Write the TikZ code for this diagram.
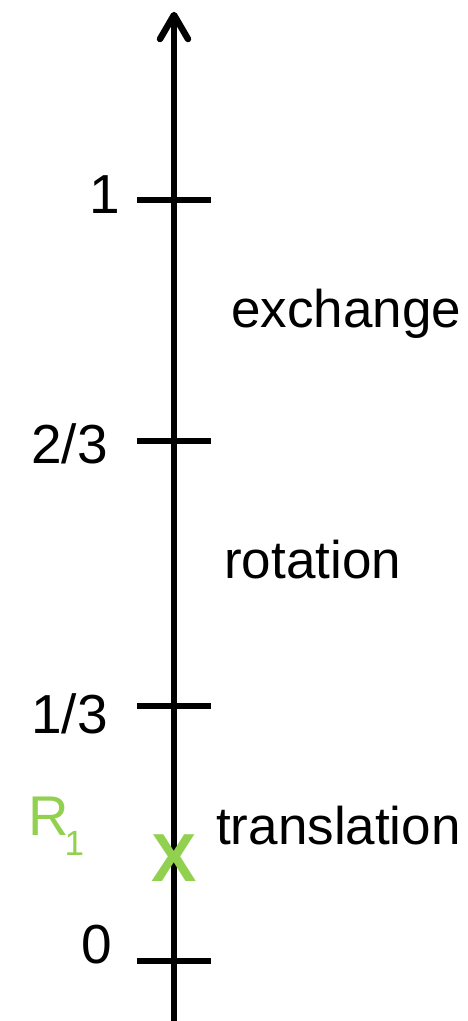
\documentclass[tikz,border=0pt]{standalone}
\usepackage{fontspec}
\setmainfont{Liberation Sans}
\definecolor{lgreen}{HTML}{92D050}
\begin{document}
\begin{tikzpicture}[x=1pt,y=-1pt,
  axisline/.style={line width=6.5pt, line cap=butt},
  headline/.style={line width=6.5pt, line cap=round, line join=round},
  lbl/.style={font=\fontsize{53}{60}\selectfont, inner sep=0pt, anchor=base west},
  ticklbl/.style={font=\fontsize{55}{60}\selectfont, inner sep=0pt, anchor=base east}]
\useasboundingbox (0,0) rectangle (467,1021);
\coordinate (bot) at (174,1021);
\coordinate (top) at (174,18);
\coordinate (tip) at (174,15);
\coordinate (hl) at (160,39);
\coordinate (hr) at (188,39);
\draw[axisline] (bot) -- (top);
\draw[headline] (hl) -- (tip) -- (hr);
\foreach \y/\n in {200/t1,441/t2,706/t3,961/t0}{
  \coordinate (\n L) at (137,\y);
  \coordinate (\n R) at (211,\y);
  \draw[axisline] (\n L) -- (\n R);
}
\node[ticklbl] (l1) at (120,213) {1};
\node[ticklbl] (l23) at (108,463) {2/3};
\node[ticklbl] (l13) at (108,733) {1/3};
\node[ticklbl] (l0) at (112,963) {0};
\node[lbl] (ex) at (231,327) {exchange};
\node[lbl] (rot) at (224,578) {rotation};
\node[lbl] (tr) at (216,844) {translation};
\node[inner sep=0pt, text=lgreen, font=\fontsize{68}{70}\selectfont\bfseries] (X) at (174,858) {X};
\node[inner sep=0pt, text=lgreen, font=\fontsize{56}{60}\selectfont, anchor=base west] (R) at (28,835)
  {R\kern-4pt\raisebox{-20pt}{\fontsize{35}{40}\selectfont 1}};
\end{tikzpicture}
\end{document}
